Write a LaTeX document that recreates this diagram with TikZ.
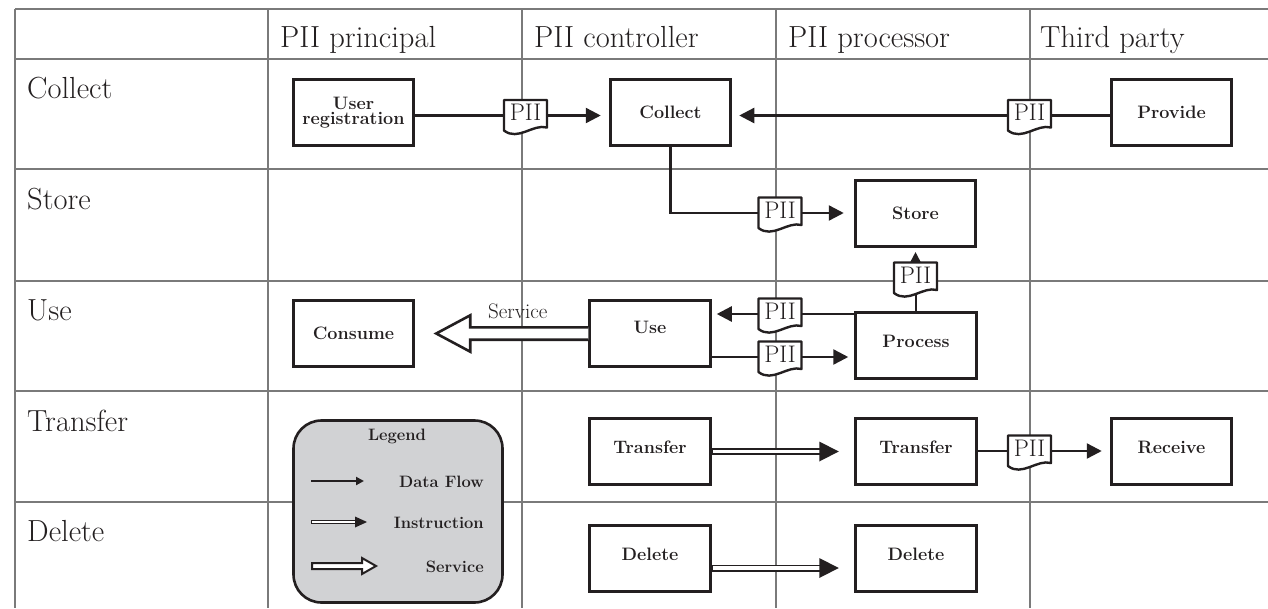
\documentclass[tikz,border=0pt]{standalone}
\usetikzlibrary{arrows.meta,calc}
\definecolor{ink}{HTML}{231F20}
\definecolor{gridgray}{HTML}{7A7A7A}
\definecolor{legendfill}{HTML}{D1D2D4}
\newcommand{\piidoc}[3]{%
  \begin{scope}[shift={(#2,#3)}]
    \draw[docline] (-21.5,15) -- (-21.5,-15.5) -- (21.5,-15.5) -- (21.5,12)
      .. controls (7.5,8) and (-7.5,26) .. (-21.5,15) -- cycle;
  \end{scope}
  \node[pii] (#1) at (#2,#3) {PII};}
\newcommand{\instrarrow}[3]{%
  \draw[ink,line width=7pt] ($(#1.east)+(0,#3)$) -- ($(#2.west)+(-34,#3)$);
  \draw[white,line width=3.4pt] ($(#1.east)+(1.5,#3)$) -- ($(#2.west)+(-34,#3)$);
  \fill[ink] ($(#2.west)+(-15.5,#3)$) -- ($(#2.west)+(-35,#3-10)$) -- ($(#2.west)+(-35,#3+10)$) -- cycle;}
\begin{document}
\begin{tikzpicture}[x=1pt,y=-1pt,
  gridline/.style={draw=gridgray,line width=1.5pt},
  hdr/.style={anchor=base west,inner sep=0pt,text=ink,font=\fontsize{30.5}{33}\selectfont},
  procbase/.style={draw=ink,line width=3pt,fill=white,minimum width=120.5pt,minimum height=66pt,inner sep=0pt,text=ink,align=center,font=\bfseries\fontsize{18}{15.5}\selectfont},
  procbox/.style={procbase,text height=12.5pt,text depth=0pt},
  pii/.style={inner sep=0pt,minimum width=43pt,minimum height=31pt,text=ink,font=\fontsize{24}{24}\selectfont,text height=16pt,text depth=6pt},
  docline/.style={draw=ink,fill=white,line width=2.4pt,line join=round},
  dflow/.style={draw=ink,line width=2.4pt},
  dflowarrow/.style={dflow,-{Triangle[length=15pt,width=15pt]}},
  svcarrow/.style={draw=ink,fill=white,line width=2.6pt,line join=miter},
  lgtext/.style={inner sep=0pt,text=ink,font=\bfseries\fontsize{16.5}{18}\selectfont},
]
\useasboundingbox (0,0) rectangle (1268,608);
% grid
\draw[gridline] (15,9) -- (1268,9);
\draw[gridline] (15,9) -- (15,608);
\foreach \gx in {268,522,776,1030} {\draw[gridline] (\gx,9) -- (\gx,608);}
\foreach \gy in {59,169,281,391,502} {\draw[gridline] (15,\gy) -- (1268,\gy);}
% headers
\node[hdr] (h1) at (280,47) {PII principal};
\node[hdr] (h2) at (534,47) {PII controller};
\node[hdr] (h3) at (788,47) {PII processor};
\node[hdr] (h4) at (1040,47) {Third party};
\node[hdr] (r1) at (27,98) {Collect};
\node[hdr] (r2) at (27,209) {Store};
\node[hdr] (r3) at (27,320) {Use};
\node[hdr] (r4) at (27,431) {Transfer};
\node[hdr] (r5) at (27,541) {Delete};
% legend
\node[draw=ink,line width=2.6pt,fill=legendfill,rounded corners=28pt,minimum width=209pt,minimum height=182pt,inner sep=0pt] (legend) at (398,511.5) {};
\node[lgtext,anchor=base] (lgtitle) at (397,440) {Legend};
\node[lgtext,anchor=base east] (lgt1) at (484,487) {Data Flow};
\node[lgtext,anchor=base east] (lgt2) at (484,528) {Instruction};
\node[lgtext,anchor=base east] (lgt3) at (484,572) {Service};
\coordinate (lg1a) at (311,481);
\coordinate (lg1b) at (364,481);
\draw[ink,line width=2pt,-{Triangle[length=8pt,width=8pt]}] (lg1a) -- (lg1b);
\coordinate (lg2a) at (311,522);
\draw[ink,line width=4.5pt] (lg2a) -- ($(lg2a)+(45,0)$);
\draw[white,line width=1.8pt] ($(lg2a)+(1.3,0)$) -- ($(lg2a)+(45,0)$);
\fill[ink] ($(lg2a)+(56,0)$) -- ($(lg2a)+(44,-5.5)$) -- ($(lg2a)+(44,5.5)$) -- cycle;
\coordinate (lg3a) at (312,566);
\draw[draw=ink,fill=white,line width=2pt,line join=miter] ($(lg3a)+(0,-3)$) -- ($(lg3a)+(50,-3)$) -- ($(lg3a)+(50,-8)$) -- ($(lg3a)+(64,0)$) -- ($(lg3a)+(50,8)$) -- ($(lg3a)+(50,3)$) -- ($(lg3a)+(0,3)$) -- cycle;
% process boxes
\node[procbase] (ureg) at (353.5,112.5) {User\\registration};
\node[procbox] (collect) at (670.5,112.5) {Collect};
\node[procbox] (provide) at (1171.5,112) {Provide};
\node[procbox] (store) at (915.5,213.5) {Store};
\node[procbox] (consume) at (353.5,333) {Consume};
\node[procbox,text depth=13pt] (use) at (650,333.5) {Use};
\node[procbox,text depth=8pt] (process) at (916,345) {Process};
\node[procbox,text depth=8pt] (xfer1) at (650,451.5) {Transfer};
\node[procbox,text depth=8pt] (xfer2) at (916,451.5) {Transfer};
\node[procbox,text depth=8pt] (receive) at (1171.5,451.5) {Receive};
\node[procbox,text depth=8pt] (del1) at (650,558) {Delete};
\node[procbox,text depth=8pt] (del2) at (916,558) {Delete};
% anchor points for the PII documents
\coordinate (c1) at (525.5,115.5);
\coordinate (c2) at (1029.5,115.5);
\coordinate (c3) at (780,213);
\coordinate (c4) at (915.5,278);
\coordinate (c5) at (780,314);
\coordinate (c6) at (780,357);
\coordinate (c7) at (1029.5,451);
% data flows (drawn beneath documents)
\draw[dflow] (ureg.east |- c1) -- (c1);
\draw[dflowarrow,shorten >=8pt,shorten <=21pt] (c1) -- (collect.west |- c1);
\draw[dflow] (provide.west |- c2) -- (c2);
\draw[dflowarrow,shorten >=7pt,shorten <=21pt] (c2) -- (collect.east |- c2);
\draw[dflow] (collect.south) |- (c3);
\draw[dflowarrow,shorten >=10pt,shorten <=21pt] (c3) -- (store.west |- c3);
\draw[dflow] (process.north) -- (process.north |- c4);
\draw[dflowarrow,shorten >=4pt,shorten <=15pt] (c4) -- (c4 |- store.south);
\draw[dflow] (process.west |- c5) -- (c5);
\draw[dflowarrow,shorten >=5pt,shorten <=21pt] (c5) -- (use.east |- c5);
\draw[dflow] (use.east |- c6) -- (c6);
\draw[dflowarrow,shorten >=6pt,shorten <=21pt] (c6) -- (process.west |- c6);
\draw[dflow] (xfer2.east |- c7) -- (c7);
\draw[dflowarrow,shorten >=8pt,shorten <=21pt] (c7) -- (receive.west |- c7);
% PII documents
\piidoc{d1}{525.5}{115.5}
\piidoc{d2}{1029.5}{115.5}
\piidoc{d3}{780}{213}
\piidoc{d4}{915.5}{278}
\piidoc{d5}{780}{314}
\piidoc{d6}{780}{357}
\piidoc{d7}{1029.5}{451}
% service
\draw[svcarrow] ($(use.west)+(0,-6.2)$) -- ($(consume.east |- use.west)+(55,-6.2)$) -- ($(consume.east |- use.west)+(55,-18.2)$) -- ($(consume.east |- use.west)+(21,0)$) -- ($(consume.east |- use.west)+(55,18.2)$) -- ($(consume.east |- use.west)+(55,6.2)$) -- ($(use.west)+(0,6.2)$);
\node[anchor=base west,inner sep=0pt,text=ink,font=\fontsize{21}{23}\selectfont] (svclabel) at (488,318) {Service};
% instructions
\instrarrow{xfer1}{xfer2}{0}
\instrarrow{del1}{del2}{10}
\end{tikzpicture}
\end{document}
